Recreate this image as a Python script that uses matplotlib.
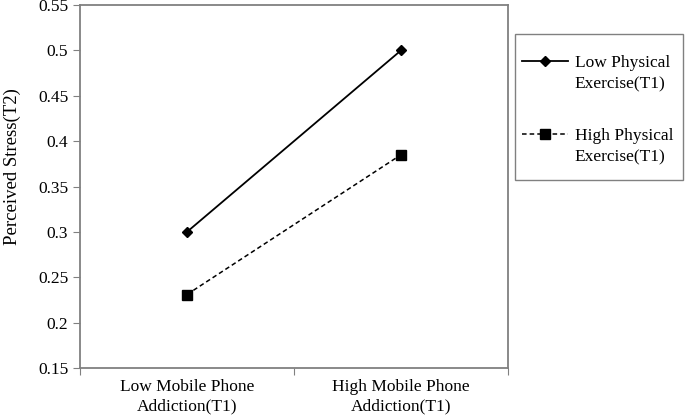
import matplotlib.pyplot as plt
from matplotlib.patches import Rectangle
from matplotlib.lines import Line2D

plt.rcParams['font.family'] = ['Liberation Serif', 'DejaVu Serif']

categories = ['Low Mobile Phone\nAddiction(T1)', 'High Mobile Phone\nAddiction(T1)']
low_exercise = [0.30, 0.50]
high_exercise = [0.231, 0.385]
series_names = [('Low Physical', 'Exercise(T1)'), ('High Physical', 'Exercise(T1)')]
yticks = [0.15, 0.2, 0.25, 0.3, 0.35, 0.4, 0.45, 0.5, 0.55]
ytick_labels = ['0.15', '0.2', '0.25', '0.3', '0.35', '0.4', '0.45', '0.5', '0.55']

fs = 12.5
fig = plt.figure(figsize=(6.85, 4.18), dpi=100)
ax = fig.add_axes([0.1168, 0.1196, 0.6248, 0.8684])

xpos = [0.5, 1.5]
l1, = ax.plot(xpos, low_exercise, color='black', lw=1.3, marker='D', ms=5)
l2, = ax.plot(xpos, high_exercise, color='black', lw=1.1, ls=(0, (3, 2)), marker='s', ms=6.5)

ax.set_xlim(0, 2)
ax.set_ylim(0.15, 0.55)
ax.set_yticks(yticks)
ax.set_yticklabels(ytick_labels, fontsize=fs)
ax.set_xticks([0, 1, 2])
ax.set_xticklabels([])
ax.set_xticks(xpos, minor=True)
ax.set_xticklabels(categories, minor=True, fontsize=fs, linespacing=1.3)
ax.tick_params(axis='x', which='minor', length=0, pad=8)
ax.tick_params(axis='x', which='major', length=5, color='#808080', direction='out')
ax.tick_params(axis='y', length=5, color='#808080', direction='out')
for s in ax.spines.values():
    s.set_color('#808080')
    s.set_linewidth(1.3)

ax.set_ylabel('Perceived Stress(T2)', fontsize=13.5)
ax.yaxis.set_label_coords(-0.138, 0.555)

# legend: framed box drawn separately, two frameless legends inside
fig.patches.append(Rectangle((515 / 685, 1 - 180 / 418), 168 / 685, 146 / 418,
                             transform=fig.transFigure, fill=False,
                             edgecolor='#808080', lw=1.0))
blank = Line2D([], [], color='none')
legs = []
for handle, (first, second), ytop in zip([l1, l2], series_names, [55, 128]):
    leg = ax.legend([handle, blank], [first, second], loc='upper left',
                    bbox_to_anchor=(522 / 685, 1 - ytop / 418),
                    bbox_transform=fig.transFigure, frameon=False, borderpad=0,
                    borderaxespad=0, fontsize=fs, handlelength=2.65,
                    handletextpad=0.4, labelspacing=0.27)
    legs.append(leg)
ax.add_artist(legs[0])

fig.savefig('out.png', dpi=100)
